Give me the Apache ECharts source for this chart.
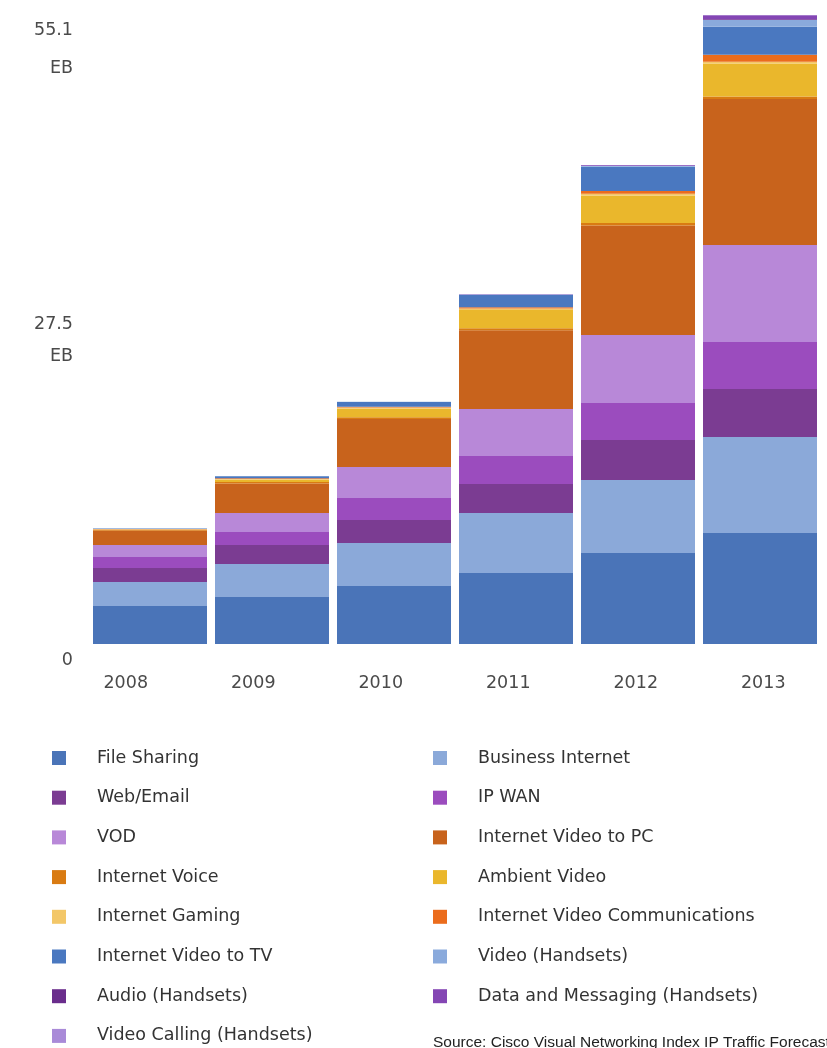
<!DOCTYPE html>
<html>
<head>
<meta charset="utf-8">
<script src="https://cdn.jsdelivr.net/npm/echarts@6/dist/echarts.min.js"></script>
<style>
  html, body { margin: 0; padding: 0; background: #fff; }
  #main { width: 827px; height: 1048px; }
</style>
</head>
<body>
<div id="main"></div>
<script>
// years on the x axis
const years = ['2008', '2009', '2010', '2011', '2012', '2013']

// series names, bottom of the stack first (same order as the legend)
const names = [
  'File Sharing', 'Business Internet', 'Web/Email', 'IP WAN', 'VOD',
  'Internet Video to PC', 'Internet Voice', 'Ambient Video', 'Internet Gaming',
  'Internet Video Communications', 'Internet Video to TV', 'Video (Handsets)',
  'Audio (Handsets)', 'Data and Messaging (Handsets)', 'Video Calling (Handsets)'
]

const colors = [
  '#4a74b8', '#8ba9d9', '#7b3c92', '#9b4cbe', '#b888d8',
  '#c8631c', '#d97b12', '#eab72c', '#f3c768',
  '#eb6c1c', '#4a78c0', '#8aaadc',
  '#6a2d8c', '#8446b4', '#a98ad8'
]

// EB per month
const fileSharing = [3.33, 4.12, 5.08, 6.22, 7.97, 9.72]
const businessInternet = [2.10, 2.89, 3.77, 5.26, 6.40, 8.41]
const webEmail = [1.23, 1.66, 2.01, 2.54, 3.50, 4.20]
const ipWan = [0.96, 1.14, 1.93, 2.45, 3.24, 4.12]
const vod = [1.05, 1.66, 2.72, 4.12, 5.96, 8.50]
const videoToPc = [1.25, 2.60, 4.20, 6.90, 9.60, 12.80]
const internetVoice = [0.08, 0.12, 0.15, 0.17, 0.20, 0.20]
const ambientVideo = [0.03, 0.20, 0.75, 1.60, 2.40, 2.90]
const internetGaming = [0.03, 0.07, 0.10, 0.13, 0.17, 0.15]
const videoComms = [0.02, 0.05, 0.08, 0.12, 0.25, 0.61]
const videoToTv = [0.03, 0.18, 0.40, 1.08, 2.12, 2.45]
const videoHandsets = [0.005, 0.01, 0.02, 0.03, 0.08, 0.61]
const audioHandsets = [0, 0, 0.005, 0.005, 0.01, 0.05]
const dataHandsets = [0.005, 0.005, 0.01, 0.02, 0.05, 0.35]
const callingHandsets = [0, 0, 0.005, 0.005, 0.01, 0.05]

const values = [
  fileSharing, businessInternet, webEmail, ipWan, vod,
  videoToPc, internetVoice, ambientVideo, internetGaming,
  videoComms, videoToTv, videoHandsets,
  audioHandsets, dataHandsets, callingHandsets
]

const yMax = 55.1
const font = 'DejaVu Sans'

let series = []
for (let i = 0; i < names.length; ++i) {
  series.push({
    name: names[i],
    type: 'bar',
    stack: 'traffic',
    barWidth: 114,
    xAxisIndex: 0,
    yAxisIndex: 0,
    itemStyle: { color: colors[i] },
    emphasis: { disabled: true },
    data: values[i]
  })
}

// legend is two columns, reading across the rows
let leftNames = names.filter((n, i) => i % 2 === 0)
let rightNames = names.filter((n, i) => i % 2 === 1)

const legendBase = {
  orient: 'vertical',
  top: 749,
  height: 330,
  padding: 0,
  icon: 'rect',
  itemWidth: 14,
  itemHeight: 14,
  itemGap: 21.7,
  textStyle: {
    fontFamily: font,
    fontSize: 17.5,
    lineHeight: 18,
    color: '#333',
    padding: [0, 0, 0, 26]
  }
}

const labelColor = '#4a4a4a'

var chartDom = document.getElementById('main')
var myChart = echarts.init(chartDom, null, { renderer: 'canvas' })
var option

option = {
  animation: false,
  backgroundColor: '#fff',
  title: {
    text: 'Source: Cisco Visual Networking Index IP Traffic Forecast, 2008\u20132013',
    left: 433,
    top: 1035,
    padding: 0,
    textStyle: {
      fontFamily: 'Liberation Sans',
      fontSize: 15.5,
      fontWeight: 'normal',
      color: '#222'
    }
  },
  grid: [
    { left: 89, right: 6, top: 15, bottom: 404 },
    // year labels sit on a slightly wider spacing than the bars
    { left: 62, right: -6, top: 15, bottom: 404 }
  ],
  legend: [
    Object.assign({}, legendBase, { left: 52, data: leftNames }),
    Object.assign({}, legendBase, { left: 433, data: rightNames })
  ],
  xAxis: [
    {
      type: 'category',
      gridIndex: 0,
      data: years,
      axisLine: { show: false },
      axisTick: { show: false },
      axisLabel: { show: false }
    },
    {
      type: 'category',
      gridIndex: 1,
      data: years,
      axisLine: { show: false },
      axisTick: { show: false },
      axisLabel: {
        margin: 30,
        fontFamily: font,
        fontSize: 17.5,
        color: labelColor
      }
    }
  ],
  yAxis: [
    {
      type: 'value',
      gridIndex: 0,
      min: 0,
      max: yMax,
      interval: yMax / 2,
      splitLine: { show: false },
      axisLine: { show: false },
      axisTick: { show: false },
      axisLabel: {
        margin: 16,
        fontFamily: font,
        fontSize: 17.5,
        color: labelColor,
        formatter: function (v) {
          if (v === 0) return '{z|0}'
          if (v < yMax - 1) return '{m1|27.5}\n{m2|EB}'
          return '{t1|55.1}\n{t2|EB}'
        },
        rich: {
          z: { fontFamily: font, fontSize: 17.5, color: labelColor, padding: [32, 0, 0, 0] },
          m1: { fontFamily: font, fontSize: 17.5, color: labelColor, padding: [22, 0, 0, 0] },
          m2: { fontFamily: font, fontSize: 17.5, color: labelColor, padding: [13.5, 0, 0, 0] },
          t1: { fontFamily: font, fontSize: 17.5, color: labelColor, padding: [69, 0, 0, 0] },
          t2: { fontFamily: font, fontSize: 17.5, color: labelColor, padding: [19.5, 0, 0, 0] }
        }
      }
    },
    {
      type: 'value',
      gridIndex: 1,
      show: false
    }
  ],
  series: series
}

option && myChart.setOption(option)
</script>
</body>
</html>
